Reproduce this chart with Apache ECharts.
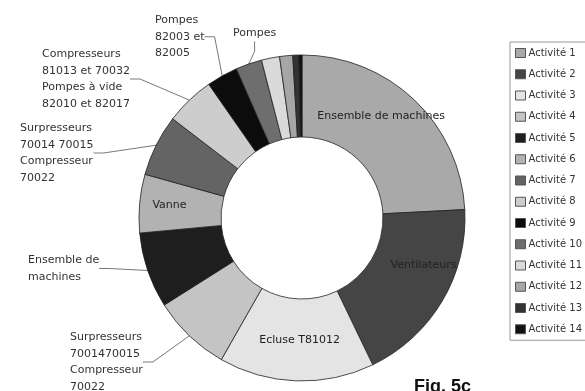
<!DOCTYPE html>
<html>
<head>
<meta charset="utf-8">
<script src="https://cdn.jsdelivr.net/npm/echarts@6/dist/echarts.min.js"></script>
<style>
html,body{margin:0;padding:0;background:#fff;}
#c{width:585px;height:391px;}
</style>
</head>
<body>
<div id="c"></div>
<script>
const categories = ['Activité 1','Activité 2','Activité 3','Activité 4','Activité 5','Activité 6','Activité 7','Activité 8','Activité 9','Activité 10','Activité 11','Activité 12','Activité 13','Activité 14'];
const values = [24.2, 18.7, 15.4, 7.8, 7.5, 5.8, 6.1, 4.9, 3.1, 2.6, 1.8, 1.3, 0.6, 0.3];
const sliceLabels = [
  'Ensemble de machines',
  'Ventilateurs',
  'Ecluse T81012',
  'Surpresseurs\n7001470015\nCompresseur\n70022',
  'Ensemble de\nmachines',
  'Vanne',
  'Surpresseurs\n70014 70015\nCompresseur\n70022',
  'Compresseurs\n81013 et 70032\nPompes à vide\n82010 et 82017',
  'Pompes\n82003 et\n82005',
  'Pompes',
  '', '', '', ''
];
const colors = ['#a9a9a9','#454545','#e4e4e4','#c4c4c4','#1e1e1e','#b2b2b2','#646464','#cdcdcd','#0c0c0c','#6e6e6e','#dadada','#a6a6a6','#333333','#111111'];
const insideIdx = [0, 1, 2, 5];
// label placement (left, top) for outside labels
const labelPos = {3: [70, 329], 4: [28, 252], 6: [20, 120], 7: [42, 46], 8: [155, 12], 9: [233, 25]};
const insideOffset = {0: [-7, -11], 1: [14, -17], 2: [2, -3], 5: [-8, -2]};

const data = values.map((v, i) => {
  const item = {name: categories[i], value: v, itemStyle: {color: colors[i]}};
  if (insideIdx.includes(i)) {
    item.label = {show: true, position: 'inside', formatter: sliceLabels[i], offset: insideOffset[i], color: '#222'};
    item.labelLine = {show: false};
  } else if (sliceLabels[i]) {
    item.label = {show: true, position: 'outside', formatter: sliceLabels[i], align: 'left', lineHeight: 16.5};
    item.labelLine = {show: true, length: 8, length2: 10};
  } else {
    item.label = {show: false};
    item.labelLine = {show: false};
  }
  return item;
});

const chart = echarts.init(document.getElementById('c'), null, {renderer: 'canvas'});
chart.setOption({
  animation: false,
  backgroundColor: '#fff',
  textStyle: {fontFamily: 'DejaVu Sans'},
  legend: {
    orient: 'vertical',
    left: 510, top: 42,
    padding: [5, 20, 5, 5],
    itemWidth: 10, itemHeight: 9,
    itemGap: 9.25,
    icon: 'rect',
    borderColor: '#999', borderWidth: 1,
    itemStyle: {borderColor: '#555', borderWidth: 1},
    textStyle: {fontSize: 10, color: '#333', lineHeight: 12, fontFamily: 'DejaVu Sans', padding: [0, 0, 0, -2]},
    data: categories
  },
  graphic: [{
    type: 'text', left: 414, top: 378,
    style: {text: 'Fig. 5c', font: 'bold 18px "Liberation Sans"', fill: '#111'}
  }],
  series: [{
    type: 'pie',
    center: [302, 218],
    radius: [81, 163],
    startAngle: 90,
    clockwise: true,
    avoidLabelOverlap: false,
    itemStyle: {borderColor: '#222', borderWidth: 0.8},
    label: {fontSize: 11, color: '#333', fontFamily: 'DejaVu Sans'},
    labelLine: {lineStyle: {color: '#555', width: 0.8}},
    labelLayout: function (p) {
      const pos = labelPos[p.dataIndex];
      if (!pos) return {};
      return {x: pos[0], y: pos[1], align: 'left', verticalAlign: 'top', moveOverlap: null};
    },
    emphasis: {disabled: true},
    data: data
  }]
});
</script>
</body>
</html>
